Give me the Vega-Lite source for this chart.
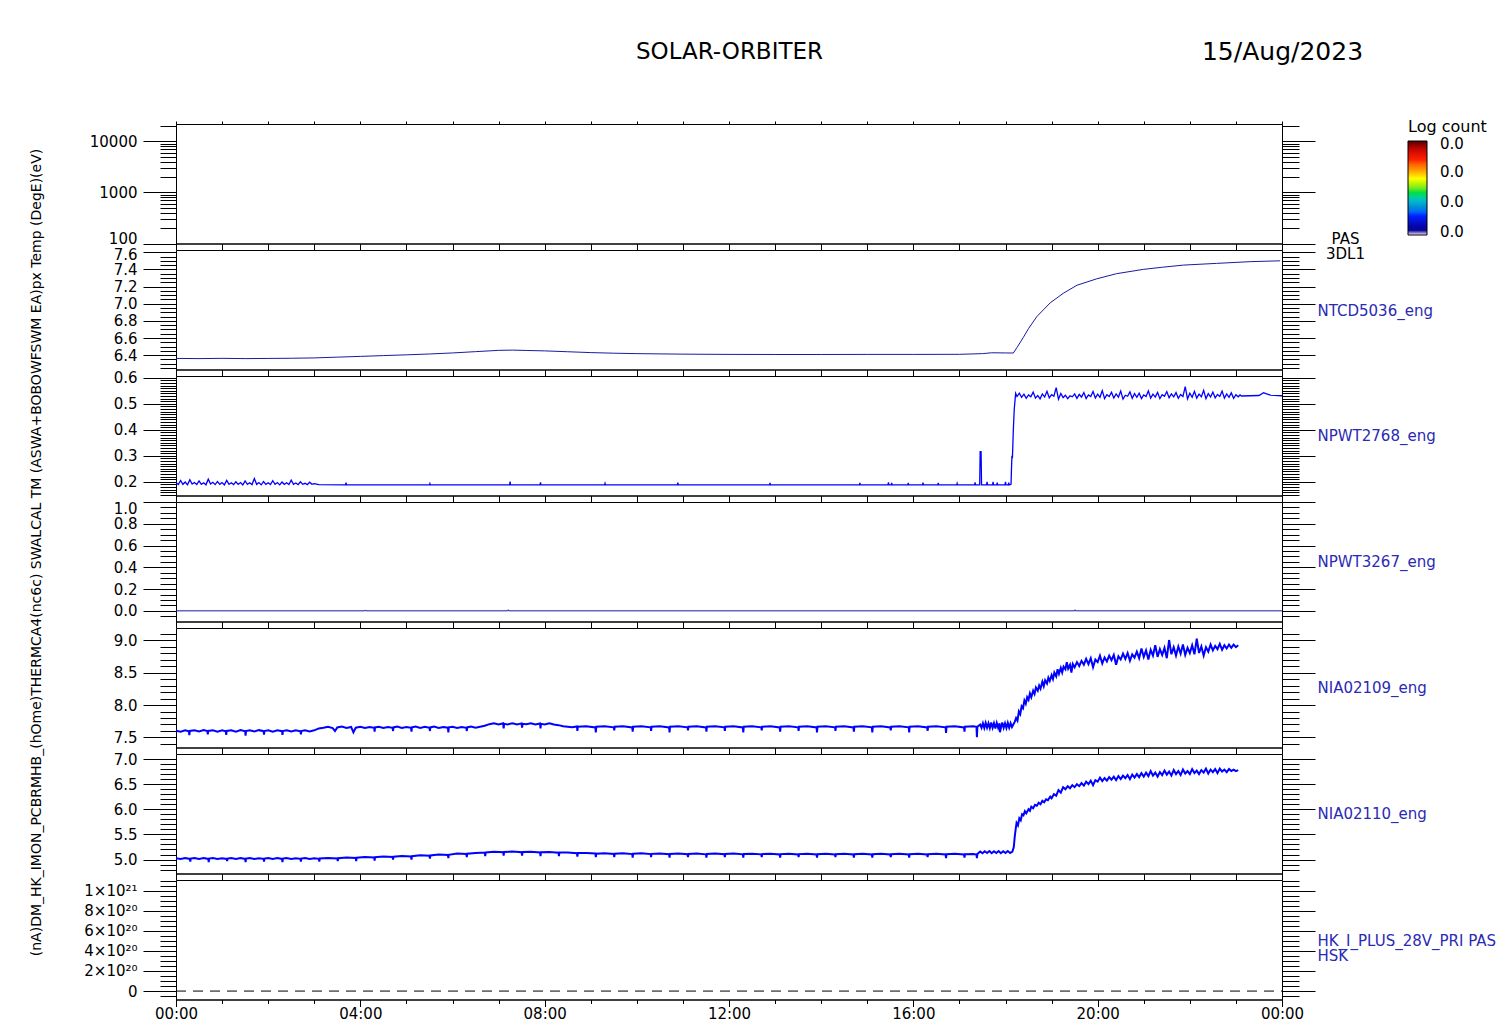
{
"$schema": "https://vega.github.io/schema/vega-lite/v6.json",
"background": "white",
"padding": {"left": 28, "top": 38, "right": 5, "bottom": 5},
"config": {
 "view": {"stroke": "#000000", "strokeWidth": 1},
 "font": "DejaVu Sans",
 "axis": {"grid": false, "domainColor": "#000000", "tickColor": "#000000", "labelColor": "#000000", "labelFont": "DejaVu Sans", "labelFontSize": 15, "titleFont": "DejaVu Sans", "titleFontSize": 15, "titleFontWeight": "normal", "titleColor": "#000000", "labelOverlap": false, "labelFlush": false, "tickWidth": 1, "domainWidth": 1},
 "legend": {"labelFont": "DejaVu Sans", "titleFont": "DejaVu Sans"}
},
"datasets": {
 "p1": [],
 "p2": [{"h":0,"v":6.362},{"h":0.5,"v":6.36},{"h":1,"v":6.363},{"h":1.5,"v":6.36},{"h":2,"v":6.362},{"h":2.5,"v":6.364},{"h":3,"v":6.368},{"h":3.5,"v":6.377},{"h":4,"v":6.386},{"h":4.5,"v":6.395},{"h":5,"v":6.404},{"h":5.5,"v":6.414},{"h":6,"v":6.426},{"h":6.5,"v":6.441},{"h":7,"v":6.456},{"h":7.3,"v":6.459},{"h":7.6,"v":6.455},{"h":8,"v":6.45},{"h":8.5,"v":6.44},{"h":9,"v":6.43},{"h":9.5,"v":6.423},{"h":10,"v":6.418},{"h":11,"v":6.412},{"h":12,"v":6.409},{"h":13,"v":6.408},{"h":14,"v":6.408},{"h":15,"v":6.409},{"h":16,"v":6.409},{"h":17,"v":6.41},{"h":17.5,"v":6.418},{"h":17.7,"v":6.428},{"h":18,"v":6.426},{"h":18.17,"v":6.425},{"h":18.25,"v":6.49},{"h":18.39,"v":6.61},{"h":18.5,"v":6.71},{"h":18.68,"v":6.85},{"h":18.97,"v":7.01},{"h":19.25,"v":7.12},{"h":19.55,"v":7.215},{"h":19.98,"v":7.29},{"h":20.41,"v":7.35},{"h":20.99,"v":7.4},{"h":21.4,"v":7.425},{"h":21.86,"v":7.45},{"h":22.58,"v":7.47},{"h":23.31,"v":7.49},{"h":23.96,"v":7.5}],
 "p3": [{"h":0,"v":0.196},{"h":0.05,"v":0.189},{"h":0.1,"v":0.205},{"h":0.15,"v":0.19},{"h":0.2,"v":0.199},{"h":0.25,"v":0.188},{"h":0.3,"v":0.208},{"h":0.35,"v":0.191},{"h":0.4,"v":0.197},{"h":0.45,"v":0.189},{"h":0.5,"v":0.203},{"h":0.55,"v":0.19},{"h":0.6,"v":0.196},{"h":0.65,"v":0.188},{"h":0.7,"v":0.21},{"h":0.75,"v":0.191},{"h":0.8,"v":0.198},{"h":0.85,"v":0.189},{"h":0.9,"v":0.201},{"h":0.95,"v":0.19},{"h":1,"v":0.197},{"h":1.05,"v":0.188},{"h":1.1,"v":0.205},{"h":1.15,"v":0.19},{"h":1.2,"v":0.196},{"h":1.25,"v":0.189},{"h":1.3,"v":0.2},{"h":1.35,"v":0.19},{"h":1.4,"v":0.197},{"h":1.45,"v":0.188},{"h":1.5,"v":0.203},{"h":1.55,"v":0.19},{"h":1.6,"v":0.196},{"h":1.65,"v":0.189},{"h":1.7,"v":0.212},{"h":1.75,"v":0.19},{"h":1.8,"v":0.197},{"h":1.85,"v":0.188},{"h":1.9,"v":0.201},{"h":1.95,"v":0.19},{"h":2,"v":0.196},{"h":2.05,"v":0.189},{"h":2.1,"v":0.204},{"h":2.15,"v":0.19},{"h":2.2,"v":0.197},{"h":2.25,"v":0.188},{"h":2.3,"v":0.199},{"h":2.35,"v":0.19},{"h":2.4,"v":0.196},{"h":2.45,"v":0.189},{"h":2.5,"v":0.206},{"h":2.55,"v":0.19},{"h":2.6,"v":0.195},{"h":2.65,"v":0.189},{"h":2.7,"v":0.2},{"h":2.75,"v":0.19},{"h":2.8,"v":0.194},{"h":2.85,"v":0.189},{"h":2.9,"v":0.198},{"h":2.95,"v":0.19},{"h":3,"v":0.193},{"h":3.1,"v":0.189},{"h":3.68,"v":0.188},{"h":3.69,"v":0.197},{"h":3.7,"v":0.188},{"h":5.5,"v":0.188},{"h":5.51,"v":0.193},{"h":5.52,"v":0.188},{"h":7.24,"v":0.188},{"h":7.25,"v":0.201},{"h":7.26,"v":0.188},{"h":7.9,"v":0.188},{"h":7.91,"v":0.198},{"h":7.92,"v":0.188},{"h":9.3,"v":0.188},{"h":9.31,"v":0.194},{"h":9.32,"v":0.188},{"h":10.88,"v":0.188},{"h":10.89,"v":0.197},{"h":10.9,"v":0.188},{"h":12.88,"v":0.188},{"h":12.89,"v":0.196},{"h":12.9,"v":0.188},{"h":14.83,"v":0.188},{"h":14.84,"v":0.195},{"h":14.85,"v":0.188},{"h":15.45,"v":0.188},{"h":15.46,"v":0.198},{"h":15.47,"v":0.188},{"h":15.52,"v":0.188},{"h":15.53,"v":0.196},{"h":15.54,"v":0.188},{"h":15.88,"v":0.188},{"h":15.89,"v":0.195},{"h":15.9,"v":0.188},{"h":16.2,"v":0.188},{"h":16.21,"v":0.197},{"h":16.22,"v":0.188},{"h":16.53,"v":0.188},{"h":16.54,"v":0.196},{"h":16.55,"v":0.188},{"h":16.94,"v":0.188},{"h":16.95,"v":0.194},{"h":16.96,"v":0.188},{"h":17.33,"v":0.188},{"h":17.34,"v":0.198},{"h":17.35,"v":0.188},{"h":17.44,"v":0.188},{"h":17.45,"v":0.316},{"h":17.47,"v":0.316},{"h":17.48,"v":0.188},{"h":17.59,"v":0.188},{"h":17.6,"v":0.2},{"h":17.61,"v":0.188},{"h":17.72,"v":0.188},{"h":17.73,"v":0.2},{"h":17.74,"v":0.188},{"h":17.81,"v":0.188},{"h":17.82,"v":0.197},{"h":17.83,"v":0.188},{"h":17.99,"v":0.188},{"h":18,"v":0.2},{"h":18.01,"v":0.188},{"h":18.06,"v":0.188},{"h":18.07,"v":0.197},{"h":18.08,"v":0.188},{"h":18.12,"v":0.19},{"h":18.13,"v":0.25},{"h":18.14,"v":0.3},{"h":18.15,"v":0.29},{"h":18.17,"v":0.4},{"h":18.19,"v":0.48},{"h":18.21,"v":0.52},{"h":18.22,"v":0.54},{"h":18.25,"v":0.528},{"h":18.3,"v":0.541},{"h":18.35,"v":0.525},{"h":18.4,"v":0.537},{"h":18.45,"v":0.521},{"h":18.5,"v":0.534},{"h":18.55,"v":0.527},{"h":18.6,"v":0.545},{"h":18.65,"v":0.522},{"h":18.7,"v":0.532},{"h":18.75,"v":0.519},{"h":18.8,"v":0.538},{"h":18.85,"v":0.526},{"h":18.9,"v":0.548},{"h":18.95,"v":0.523},{"h":19,"v":0.535},{"h":19.05,"v":0.529},{"h":19.1,"v":0.562},{"h":19.15,"v":0.518},{"h":19.2,"v":0.54},{"h":19.25,"v":0.524},{"h":19.3,"v":0.533},{"h":19.35,"v":0.52},{"h":19.4,"v":0.531},{"h":19.45,"v":0.527},{"h":19.5,"v":0.538},{"h":19.55,"v":0.521},{"h":19.6,"v":0.536},{"h":19.65,"v":0.526},{"h":19.7,"v":0.543},{"h":19.75,"v":0.52},{"h":19.8,"v":0.534},{"h":19.85,"v":0.528},{"h":19.9,"v":0.547},{"h":19.95,"v":0.522},{"h":20,"v":0.537},{"h":20.05,"v":0.525},{"h":20.1,"v":0.551},{"h":20.15,"v":0.52},{"h":20.2,"v":0.535},{"h":20.25,"v":0.528},{"h":20.3,"v":0.544},{"h":20.35,"v":0.522},{"h":20.4,"v":0.538},{"h":20.45,"v":0.526},{"h":20.5,"v":0.549},{"h":20.55,"v":0.518},{"h":20.6,"v":0.533},{"h":20.65,"v":0.529},{"h":20.7,"v":0.546},{"h":20.75,"v":0.521},{"h":20.8,"v":0.539},{"h":20.85,"v":0.525},{"h":20.9,"v":0.541},{"h":20.95,"v":0.52},{"h":21,"v":0.534},{"h":21.05,"v":0.528},{"h":21.1,"v":0.55},{"h":21.15,"v":0.522},{"h":21.2,"v":0.537},{"h":21.25,"v":0.526},{"h":21.3,"v":0.544},{"h":21.35,"v":0.52},{"h":21.4,"v":0.535},{"h":21.45,"v":0.529},{"h":21.5,"v":0.547},{"h":21.55,"v":0.523},{"h":21.6,"v":0.538},{"h":21.65,"v":0.527},{"h":21.7,"v":0.543},{"h":21.75,"v":0.521},{"h":21.8,"v":0.536},{"h":21.85,"v":0.528},{"h":21.9,"v":0.566},{"h":21.95,"v":0.519},{"h":22,"v":0.541},{"h":22.05,"v":0.525},{"h":22.1,"v":0.548},{"h":22.15,"v":0.522},{"h":22.2,"v":0.537},{"h":22.25,"v":0.527},{"h":22.3,"v":0.552},{"h":22.35,"v":0.52},{"h":22.4,"v":0.539},{"h":22.45,"v":0.526},{"h":22.5,"v":0.545},{"h":22.55,"v":0.523},{"h":22.6,"v":0.536},{"h":22.65,"v":0.528},{"h":22.7,"v":0.549},{"h":22.75,"v":0.522},{"h":22.8,"v":0.538},{"h":22.85,"v":0.525},{"h":22.9,"v":0.542},{"h":22.95,"v":0.521},{"h":23,"v":0.535},{"h":23.05,"v":0.527},{"h":23.09,"v":0.534},{"h":23.12,"v":0.53},{"h":23.3,"v":0.531},{"h":23.5,"v":0.532},{"h":23.6,"v":0.543},{"h":23.65,"v":0.539},{"h":23.75,"v":0.533},{"h":24,"v":0.531}],
 "p4": [{"h":0,"v":0},{"h":4.1,"v":0},{"h":4.11,"v":0.008},{"h":4.12,"v":0},{"h":7.2,"v":0},{"h":7.21,"v":0.01},{"h":7.22,"v":0},{"h":19.5,"v":0},{"h":19.51,"v":0.01},{"h":19.52,"v":0},{"h":24,"v":0}],
 "p5": [{"h":0,"v":7.605},{"h":0.1,"v":7.59},{"h":0.2,"v":7.612},{"h":0.28,"v":7.595},{"h":0.29,"v":7.535},{"h":0.3,"v":7.6},{"h":0.4,"v":7.61},{"h":0.5,"v":7.592},{"h":0.6,"v":7.614},{"h":0.68,"v":7.598},{"h":0.69,"v":7.55},{"h":0.7,"v":7.6},{"h":0.8,"v":7.61},{"h":0.9,"v":7.59},{"h":1,"v":7.612},{"h":1.08,"v":7.595},{"h":1.09,"v":7.54},{"h":1.1,"v":7.6},{"h":1.2,"v":7.61},{"h":1.3,"v":7.59},{"h":1.4,"v":7.615},{"h":1.5,"v":7.596},{"h":1.51,"v":7.53},{"h":1.52,"v":7.6},{"h":1.6,"v":7.61},{"h":1.7,"v":7.592},{"h":1.8,"v":7.613},{"h":1.9,"v":7.597},{"h":1.91,"v":7.545},{"h":1.92,"v":7.6},{"h":2,"v":7.61},{"h":2.1,"v":7.59},{"h":2.2,"v":7.612},{"h":2.3,"v":7.597},{"h":2.31,"v":7.54},{"h":2.32,"v":7.6},{"h":2.4,"v":7.61},{"h":2.5,"v":7.592},{"h":2.6,"v":7.612},{"h":2.7,"v":7.596},{"h":2.71,"v":7.55},{"h":2.72,"v":7.6},{"h":2.8,"v":7.61},{"h":2.9,"v":7.593},{"h":3,"v":7.61},{"h":3.1,"v":7.64},{"h":3.2,"v":7.65},{"h":3.3,"v":7.665},{"h":3.4,"v":7.645},{"h":3.45,"v":7.6},{"h":3.5,"v":7.655},{"h":3.6,"v":7.668},{"h":3.7,"v":7.648},{"h":3.8,"v":7.662},{"h":3.85,"v":7.58},{"h":3.9,"v":7.65},{"h":4,"v":7.666},{"h":4.1,"v":7.647},{"h":4.2,"v":7.663},{"h":4.3,"v":7.65},{"h":4.31,"v":7.59},{"h":4.32,"v":7.655},{"h":4.4,"v":7.665},{"h":4.5,"v":7.646},{"h":4.6,"v":7.662},{"h":4.7,"v":7.649},{"h":4.71,"v":7.6},{"h":4.72,"v":7.655},{"h":4.8,"v":7.667},{"h":4.9,"v":7.648},{"h":5,"v":7.663},{"h":5.1,"v":7.65},{"h":5.11,"v":7.59},{"h":5.12,"v":7.656},{"h":5.2,"v":7.668},{"h":5.3,"v":7.647},{"h":5.4,"v":7.664},{"h":5.5,"v":7.65},{"h":5.51,"v":7.6},{"h":5.52,"v":7.655},{"h":5.6,"v":7.667},{"h":5.7,"v":7.648},{"h":5.8,"v":7.663},{"h":5.9,"v":7.651},{"h":5.91,"v":7.58},{"h":5.92,"v":7.656},{"h":6,"v":7.666},{"h":6.1,"v":7.647},{"h":6.2,"v":7.662},{"h":6.3,"v":7.65},{"h":6.31,"v":7.6},{"h":6.32,"v":7.655},{"h":6.4,"v":7.668},{"h":6.5,"v":7.649},{"h":6.6,"v":7.664},{"h":6.7,"v":7.68},{"h":6.8,"v":7.705},{"h":6.9,"v":7.72},{"h":7,"v":7.7},{"h":7.1,"v":7.718},{"h":7.11,"v":7.64},{"h":7.12,"v":7.71},{"h":7.2,"v":7.702},{"h":7.3,"v":7.72},{"h":7.4,"v":7.7},{"h":7.5,"v":7.717},{"h":7.51,"v":7.65},{"h":7.52,"v":7.71},{"h":7.6,"v":7.703},{"h":7.7,"v":7.72},{"h":7.8,"v":7.7},{"h":7.9,"v":7.716},{"h":7.91,"v":7.64},{"h":7.92,"v":7.71},{"h":8,"v":7.702},{"h":8.1,"v":7.718},{"h":8.2,"v":7.7},{"h":8.3,"v":7.69},{"h":8.4,"v":7.672},{"h":8.6,"v":7.656},{"h":8.7,"v":7.67},{"h":8.71,"v":7.6},{"h":8.72,"v":7.665},{"h":8.9,"v":7.674},{"h":9.1,"v":7.655},{"h":9.11,"v":7.58},{"h":9.12,"v":7.665},{"h":9.3,"v":7.673},{"h":9.5,"v":7.656},{"h":9.51,"v":7.61},{"h":9.52,"v":7.665},{"h":9.7,"v":7.674},{"h":9.9,"v":7.655},{"h":9.91,"v":7.59},{"h":9.92,"v":7.665},{"h":10.1,"v":7.673},{"h":10.3,"v":7.657},{"h":10.31,"v":7.6},{"h":10.32,"v":7.665},{"h":10.5,"v":7.674},{"h":10.7,"v":7.655},{"h":10.71,"v":7.58},{"h":10.72,"v":7.665},{"h":10.9,"v":7.672},{"h":11.1,"v":7.656},{"h":11.11,"v":7.61},{"h":11.12,"v":7.665},{"h":11.3,"v":7.673},{"h":11.5,"v":7.655},{"h":11.51,"v":7.59},{"h":11.52,"v":7.665},{"h":11.7,"v":7.674},{"h":11.9,"v":7.656},{"h":11.91,"v":7.6},{"h":11.92,"v":7.665},{"h":12.1,"v":7.673},{"h":12.3,"v":7.655},{"h":12.31,"v":7.58},{"h":12.32,"v":7.665},{"h":12.5,"v":7.674},{"h":12.7,"v":7.656},{"h":12.71,"v":7.61},{"h":12.72,"v":7.665},{"h":12.9,"v":7.672},{"h":13.1,"v":7.655},{"h":13.11,"v":7.59},{"h":13.12,"v":7.665},{"h":13.3,"v":7.674},{"h":13.5,"v":7.656},{"h":13.51,"v":7.6},{"h":13.52,"v":7.665},{"h":13.7,"v":7.673},{"h":13.9,"v":7.655},{"h":13.91,"v":7.58},{"h":13.92,"v":7.665},{"h":14.1,"v":7.674},{"h":14.3,"v":7.656},{"h":14.31,"v":7.6},{"h":14.32,"v":7.665},{"h":14.5,"v":7.673},{"h":14.7,"v":7.655},{"h":14.71,"v":7.59},{"h":14.72,"v":7.665},{"h":14.9,"v":7.674},{"h":15.1,"v":7.656},{"h":15.11,"v":7.58},{"h":15.12,"v":7.665},{"h":15.3,"v":7.672},{"h":15.5,"v":7.655},{"h":15.51,"v":7.61},{"h":15.52,"v":7.665},{"h":15.7,"v":7.674},{"h":15.9,"v":7.656},{"h":15.91,"v":7.58},{"h":15.92,"v":7.665},{"h":16.1,"v":7.673},{"h":16.3,"v":7.655},{"h":16.31,"v":7.6},{"h":16.32,"v":7.665},{"h":16.5,"v":7.674},{"h":16.7,"v":7.656},{"h":16.71,"v":7.57},{"h":16.72,"v":7.665},{"h":16.9,"v":7.673},{"h":17.1,"v":7.655},{"h":17.11,"v":7.59},{"h":17.12,"v":7.665},{"h":17.3,"v":7.672},{"h":17.37,"v":7.665},{"h":17.38,"v":7.505},{"h":17.39,"v":7.665},{"h":17.45,"v":7.7},{"h":17.48,"v":7.65},{"h":17.51,"v":7.72},{"h":17.54,"v":7.645},{"h":17.57,"v":7.725},{"h":17.6,"v":7.65},{"h":17.63,"v":7.72},{"h":17.66,"v":7.645},{"h":17.69,"v":7.73},{"h":17.72,"v":7.65},{"h":17.75,"v":7.72},{"h":17.78,"v":7.64},{"h":17.81,"v":7.725},{"h":17.84,"v":7.65},{"h":17.87,"v":7.72},{"h":17.88,"v":7.58},{"h":17.9,"v":7.645},{"h":17.93,"v":7.73},{"h":17.96,"v":7.65},{"h":17.99,"v":7.72},{"h":18.02,"v":7.645},{"h":18.05,"v":7.725},{"h":18.08,"v":7.65},{"h":18.11,"v":7.72},{"h":18.14,"v":7.66},{"h":18.17,"v":7.7},{"h":18.2,"v":7.74},{"h":18.23,"v":7.8},{"h":18.26,"v":7.76},{"h":18.29,"v":7.9},{"h":18.32,"v":7.86},{"h":18.35,"v":7.98},{"h":18.38,"v":7.95},{"h":18.41,"v":8.07},{"h":18.44,"v":8.02},{"h":18.47,"v":8.12},{"h":18.5,"v":8.08},{"h":18.53,"v":8.18},{"h":18.56,"v":8.12},{"h":18.6,"v":8.22},{"h":18.63,"v":8.17},{"h":18.66,"v":8.27},{"h":18.7,"v":8.22},{"h":18.73,"v":8.3},{"h":18.76,"v":8.25},{"h":18.8,"v":8.36},{"h":18.83,"v":8.29},{"h":18.86,"v":8.38},{"h":18.9,"v":8.33},{"h":18.93,"v":8.42},{"h":18.96,"v":8.37},{"h":19,"v":8.46},{"h":19.03,"v":8.4},{"h":19.06,"v":8.5},{"h":19.1,"v":8.44},{"h":19.13,"v":8.55},{"h":19.16,"v":8.48},{"h":19.2,"v":8.57},{"h":19.23,"v":8.5},{"h":19.26,"v":8.59},{"h":19.3,"v":8.55},{"h":19.33,"v":8.66},{"h":19.36,"v":8.56},{"h":19.4,"v":8.62},{"h":19.43,"v":8.5},{"h":19.46,"v":8.63},{"h":19.5,"v":8.58},{"h":19.55,"v":8.66},{"h":19.6,"v":8.6},{"h":19.65,"v":8.68},{"h":19.7,"v":8.62},{"h":19.75,"v":8.71},{"h":19.8,"v":8.63},{"h":19.85,"v":8.72},{"h":19.9,"v":8.58},{"h":19.95,"v":8.7},{"h":20,"v":8.66},{"h":20.05,"v":8.76},{"h":20.1,"v":8.64},{"h":20.15,"v":8.73},{"h":20.2,"v":8.67},{"h":20.25,"v":8.76},{"h":20.3,"v":8.69},{"h":20.35,"v":8.77},{"h":20.4,"v":8.62},{"h":20.45,"v":8.75},{"h":20.5,"v":8.7},{"h":20.55,"v":8.79},{"h":20.6,"v":8.71},{"h":20.65,"v":8.8},{"h":20.7,"v":8.68},{"h":20.75,"v":8.78},{"h":20.8,"v":8.73},{"h":20.85,"v":8.82},{"h":20.9,"v":8.72},{"h":20.95,"v":8.87},{"h":21,"v":8.74},{"h":21.05,"v":8.84},{"h":21.1,"v":8.7},{"h":21.15,"v":8.85},{"h":21.2,"v":8.76},{"h":21.25,"v":8.92},{"h":21.3,"v":8.74},{"h":21.35,"v":8.86},{"h":21.4,"v":8.77},{"h":21.45,"v":8.88},{"h":21.5,"v":8.72},{"h":21.55,"v":9.0},{"h":21.6,"v":8.78},{"h":21.65,"v":8.89},{"h":21.7,"v":8.76},{"h":21.75,"v":8.9},{"h":21.8,"v":8.79},{"h":21.85,"v":8.93},{"h":21.9,"v":8.77},{"h":21.95,"v":8.88},{"h":22,"v":8.8},{"h":22.05,"v":8.92},{"h":22.1,"v":8.78},{"h":22.15,"v":9.02},{"h":22.2,"v":8.8},{"h":22.25,"v":8.9},{"h":22.3,"v":8.76},{"h":22.35,"v":8.89},{"h":22.4,"v":8.82},{"h":22.45,"v":8.93},{"h":22.5,"v":8.84},{"h":22.55,"v":8.91},{"h":22.6,"v":8.86},{"h":22.65,"v":8.94},{"h":22.7,"v":8.85},{"h":22.75,"v":8.92},{"h":22.8,"v":8.87},{"h":22.85,"v":8.93},{"h":22.9,"v":8.88},{"h":22.95,"v":8.93},{"h":23,"v":8.89},{"h":23.05,"v":8.92}],
 "p6": [{"h":0,"v":5.025},{"h":0.1,"v":5.01},{"h":0.2,"v":5.03},{"h":0.3,"v":5.012},{"h":0.31,"v":4.96},{"h":0.32,"v":5.02},{"h":0.4,"v":5.03},{"h":0.5,"v":5.01},{"h":0.6,"v":5.028},{"h":0.7,"v":5.012},{"h":0.71,"v":4.95},{"h":0.72,"v":5.02},{"h":0.8,"v":5.03},{"h":0.9,"v":5.01},{"h":1,"v":5.027},{"h":1.1,"v":5.012},{"h":1.11,"v":4.97},{"h":1.12,"v":5.02},{"h":1.2,"v":5.03},{"h":1.3,"v":5.01},{"h":1.4,"v":5.028},{"h":1.5,"v":5.012},{"h":1.51,"v":4.95},{"h":1.52,"v":5.02},{"h":1.6,"v":5.03},{"h":1.7,"v":5.01},{"h":1.8,"v":5.027},{"h":1.9,"v":5.013},{"h":1.91,"v":4.96},{"h":1.92,"v":5.02},{"h":2,"v":5.03},{"h":2.1,"v":5.012},{"h":2.2,"v":5.028},{"h":2.3,"v":5.012},{"h":2.31,"v":4.95},{"h":2.32,"v":5.02},{"h":2.4,"v":5.03},{"h":2.5,"v":5.012},{"h":2.6,"v":5.027},{"h":2.7,"v":5.013},{"h":2.71,"v":4.96},{"h":2.72,"v":5.02},{"h":2.8,"v":5.03},{"h":2.9,"v":5.012},{"h":3,"v":5.026},{"h":3.1,"v":5.014},{"h":3.11,"v":4.96},{"h":3.12,"v":5.02},{"h":3.3,"v":5.03},{"h":3.5,"v":5.02},{"h":3.51,"v":4.97},{"h":3.52,"v":5.025},{"h":3.7,"v":5.04},{"h":3.9,"v":5.03},{"h":3.91,"v":4.97},{"h":3.92,"v":5.035},{"h":4.1,"v":5.05},{"h":4.3,"v":5.04},{"h":4.31,"v":4.98},{"h":4.32,"v":5.045},{"h":4.5,"v":5.06},{"h":4.7,"v":5.05},{"h":4.71,"v":5.0},{"h":4.72,"v":5.055},{"h":4.9,"v":5.07},{"h":5.1,"v":5.06},{"h":5.11,"v":5.0},{"h":5.12,"v":5.065},{"h":5.3,"v":5.085},{"h":5.5,"v":5.075},{"h":5.51,"v":5.02},{"h":5.52,"v":5.08},{"h":5.7,"v":5.1},{"h":5.9,"v":5.09},{"h":5.91,"v":5.03},{"h":5.92,"v":5.095},{"h":6.1,"v":5.12},{"h":6.3,"v":5.11},{"h":6.31,"v":5.05},{"h":6.32,"v":5.115},{"h":6.5,"v":5.13},{"h":6.7,"v":5.14},{"h":6.71,"v":5.07},{"h":6.72,"v":5.14},{"h":6.9,"v":5.155},{"h":7.1,"v":5.145},{"h":7.11,"v":5.08},{"h":7.12,"v":5.15},{"h":7.3,"v":5.16},{"h":7.5,"v":5.145},{"h":7.51,"v":5.08},{"h":7.52,"v":5.15},{"h":7.7,"v":5.155},{"h":7.9,"v":5.14},{"h":7.91,"v":5.07},{"h":7.92,"v":5.145},{"h":8.1,"v":5.15},{"h":8.3,"v":5.135},{"h":8.31,"v":5.07},{"h":8.32,"v":5.14},{"h":8.5,"v":5.14},{"h":8.7,"v":5.125},{"h":8.71,"v":5.06},{"h":8.72,"v":5.13},{"h":8.9,"v":5.13},{"h":9.1,"v":5.12},{"h":9.11,"v":5.05},{"h":9.12,"v":5.115},{"h":9.3,"v":5.125},{"h":9.5,"v":5.11},{"h":9.51,"v":5.05},{"h":9.52,"v":5.115},{"h":9.7,"v":5.124},{"h":9.9,"v":5.108},{"h":9.91,"v":5.04},{"h":9.92,"v":5.115},{"h":10.1,"v":5.123},{"h":10.3,"v":5.108},{"h":10.31,"v":5.05},{"h":10.32,"v":5.113},{"h":10.5,"v":5.122},{"h":10.7,"v":5.106},{"h":10.71,"v":5.04},{"h":10.72,"v":5.112},{"h":10.9,"v":5.12},{"h":11.1,"v":5.105},{"h":11.11,"v":5.05},{"h":11.12,"v":5.11},{"h":11.3,"v":5.12},{"h":11.5,"v":5.104},{"h":11.51,"v":5.04},{"h":11.52,"v":5.11},{"h":11.7,"v":5.118},{"h":11.9,"v":5.104},{"h":11.91,"v":5.05},{"h":11.92,"v":5.11},{"h":12.1,"v":5.118},{"h":12.3,"v":5.103},{"h":12.31,"v":5.04},{"h":12.32,"v":5.11},{"h":12.5,"v":5.117},{"h":12.7,"v":5.103},{"h":12.71,"v":5.05},{"h":12.72,"v":5.108},{"h":12.9,"v":5.116},{"h":13.1,"v":5.102},{"h":13.11,"v":5.04},{"h":13.12,"v":5.108},{"h":13.3,"v":5.116},{"h":13.5,"v":5.102},{"h":13.51,"v":5.05},{"h":13.52,"v":5.108},{"h":13.7,"v":5.115},{"h":13.9,"v":5.1},{"h":13.91,"v":5.04},{"h":13.92,"v":5.107},{"h":14.1,"v":5.115},{"h":14.3,"v":5.1},{"h":14.31,"v":5.05},{"h":14.32,"v":5.107},{"h":14.5,"v":5.114},{"h":14.7,"v":5.1},{"h":14.71,"v":5.04},{"h":14.72,"v":5.106},{"h":14.9,"v":5.114},{"h":15.1,"v":5.1},{"h":15.11,"v":5.04},{"h":15.12,"v":5.106},{"h":15.3,"v":5.114},{"h":15.5,"v":5.1},{"h":15.51,"v":5.05},{"h":15.52,"v":5.106},{"h":15.7,"v":5.114},{"h":15.9,"v":5.1},{"h":15.91,"v":5.04},{"h":15.92,"v":5.106},{"h":16.1,"v":5.114},{"h":16.3,"v":5.1},{"h":16.31,"v":5.05},{"h":16.32,"v":5.106},{"h":16.5,"v":5.114},{"h":16.7,"v":5.1},{"h":16.71,"v":5.03},{"h":16.72,"v":5.106},{"h":16.9,"v":5.114},{"h":17.1,"v":5.1},{"h":17.11,"v":5.04},{"h":17.12,"v":5.106},{"h":17.3,"v":5.112},{"h":17.37,"v":5.1},{"h":17.38,"v":5.03},{"h":17.39,"v":5.11},{"h":17.45,"v":5.16},{"h":17.5,"v":5.125},{"h":17.55,"v":5.165},{"h":17.6,"v":5.13},{"h":17.65,"v":5.17},{"h":17.7,"v":5.125},{"h":17.75,"v":5.165},{"h":17.8,"v":5.13},{"h":17.85,"v":5.17},{"h":17.9,"v":5.125},{"h":17.95,"v":5.165},{"h":18,"v":5.13},{"h":18.05,"v":5.168},{"h":18.1,"v":5.13},{"h":18.15,"v":5.16},{"h":18.18,"v":5.25},{"h":18.2,"v":5.45},{"h":18.22,"v":5.6},{"h":18.24,"v":5.73},{"h":18.27,"v":5.68},{"h":18.3,"v":5.82},{"h":18.33,"v":5.78},{"h":18.36,"v":5.9},{"h":18.39,"v":5.88},{"h":18.42,"v":5.96},{"h":18.45,"v":5.92},{"h":18.5,"v":6.0},{"h":18.53,"v":5.97},{"h":18.56,"v":6.05},{"h":18.6,"v":6.02},{"h":18.64,"v":6.09},{"h":18.68,"v":6.07},{"h":18.72,"v":6.13},{"h":18.76,"v":6.1},{"h":18.8,"v":6.17},{"h":18.84,"v":6.14},{"h":18.88,"v":6.2},{"h":18.92,"v":6.18},{"h":18.97,"v":6.25},{"h":19,"v":6.22},{"h":19.05,"v":6.3},{"h":19.1,"v":6.27},{"h":19.15,"v":6.38},{"h":19.2,"v":6.33},{"h":19.25,"v":6.44},{"h":19.3,"v":6.4},{"h":19.35,"v":6.46},{"h":19.4,"v":6.42},{"h":19.45,"v":6.48},{"h":19.5,"v":6.44},{"h":19.55,"v":6.5},{"h":19.6,"v":6.46},{"h":19.65,"v":6.52},{"h":19.7,"v":6.47},{"h":19.75,"v":6.55},{"h":19.8,"v":6.5},{"h":19.85,"v":6.57},{"h":19.9,"v":6.48},{"h":19.95,"v":6.58},{"h":20,"v":6.55},{"h":20.05,"v":6.63},{"h":20.1,"v":6.56},{"h":20.15,"v":6.62},{"h":20.2,"v":6.57},{"h":20.25,"v":6.64},{"h":20.3,"v":6.59},{"h":20.35,"v":6.65},{"h":20.4,"v":6.58},{"h":20.45,"v":6.66},{"h":20.5,"v":6.6},{"h":20.55,"v":6.67},{"h":20.6,"v":6.62},{"h":20.65,"v":6.68},{"h":20.7,"v":6.6},{"h":20.75,"v":6.69},{"h":20.8,"v":6.63},{"h":20.85,"v":6.7},{"h":20.9,"v":6.64},{"h":20.95,"v":6.72},{"h":21,"v":6.65},{"h":21.05,"v":6.73},{"h":21.1,"v":6.66},{"h":21.15,"v":6.76},{"h":21.2,"v":6.67},{"h":21.25,"v":6.73},{"h":21.3,"v":6.65},{"h":21.35,"v":6.74},{"h":21.4,"v":6.68},{"h":21.45,"v":6.77},{"h":21.5,"v":6.69},{"h":21.55,"v":6.75},{"h":21.6,"v":6.67},{"h":21.65,"v":6.78},{"h":21.7,"v":6.7},{"h":21.75,"v":6.76},{"h":21.8,"v":6.68},{"h":21.85,"v":6.79},{"h":21.9,"v":6.71},{"h":21.95,"v":6.76},{"h":22,"v":6.7},{"h":22.05,"v":6.8},{"h":22.1,"v":6.72},{"h":22.15,"v":6.77},{"h":22.2,"v":6.7},{"h":22.25,"v":6.78},{"h":22.3,"v":6.73},{"h":22.35,"v":6.81},{"h":22.4,"v":6.71},{"h":22.45,"v":6.79},{"h":22.5,"v":6.74},{"h":22.55,"v":6.8},{"h":22.6,"v":6.72},{"h":22.65,"v":6.81},{"h":22.7,"v":6.75},{"h":22.75,"v":6.79},{"h":22.8,"v":6.74},{"h":22.85,"v":6.8},{"h":22.9,"v":6.76},{"h":22.95,"v":6.79},{"h":23,"v":6.76},{"h":23.05,"v":6.78}],
 "p7": [{"h":0,"v":0},{"h":24,"v":0}]
},
"vconcat": [
 {
  "width": 1106, "height": 119.5,
  "data": {"name": "p1"},
  "layer": [
   {"mark": {"type": "rect"},
    "encoding": {
     "x": {"field": "h", "type": "quantitative", "scale": {"domain": [0, 24], "nice": false, "zero": false}, "axis": {"orient": "bottom", "values": [0,1,2,3,4,5,6,7,8,9,10,11,12,13,14,15,16,17,18,19,20,21,22,23,24], "tickSize": 6, "labels": false, "title": null}},
     "y": {"field": "e", "type": "quantitative", "scale": {"type": "log", "domain": [100, 21700], "nice": false}, "axis": {"orient": "left", "values": [100, 1000, 10000], "tickSize": 33, "labelPadding": 6, "format": "d", "labelOffset": {"condition": {"test": "datum.value == 100", "value": -5}, "value": 0}, "title": null}},
     "color": {"field": "c", "type": "quantitative",
       "scale": {"domain": [0, 0.3, 0.6, 2, 3, 4.5, 5.2, 6, 7, 8, 9.3, 10], "range": ["#ffffff", "#1010a0", "#000090", "#0020ff", "#0090d0", "#00e040", "#90f000", "#ffff00", "#ff9000", "#ff2000", "#c00000", "#000000"]},
       "legend": {"orient": "none", "legendX": 1232, "legendY": -5, "direction": "vertical", "title": "Log count", "titleFontSize": 16, "titleFontWeight": "normal", "titleColor": "#000000", "titlePadding": 6, "gradientLength": 94, "gradientThickness": 19, "gradientStrokeColor": "#000000", "gradientStrokeWidth": 1, "labelFontSize": 15, "labelColor": "#000000", "labelOffset": 13, "values": [0.3, 3.5, 6.7, 9.7], "labelExpr": "'0.0'", "labelOverlap": false}}
    }},
   {"mark": {"type": "point", "opacity": 0},
    "encoding": {
     "x": {"field": "h", "type": "quantitative", "scale": {"domain": [0, 24], "nice": false, "zero": false}, "axis": {"orient": "top", "values": [0,1,2,3,4,5,6,7,8,9,10,11,12,13,14,15,16,17,18,19,20,21,22,23,24], "tickSize": 3, "labels": false, "domain": false, "title": "15/Aug/2023", "titleX": 1106, "titleY": -73, "titleAlign": "center", "titleBaseline": "middle", "titleFontSize": 25}},
     "y": {"field": "e", "type": "quantitative", "scale": {"type": "log", "domain": [100, 21700], "nice": false}, "axis": {"orient": "left", "values": [200,300,400,500,600,700,800,900,2000,3000,4000,5000,6000,7000,8000,9000,20000], "tickSize": 16, "labels": false, "domain": false, "title": null}}
    }},
   {"mark": {"type": "point", "opacity": 0},
    "encoding": {
     "x": {"field": "h", "type": "quantitative", "scale": {"domain": [0, 24], "nice": false, "zero": false}, "axis": {"orient": "top", "ticks": false, "labels": false, "domain": false, "title": "SOLAR-ORBITER", "titleX": 553, "titleY": -73, "titleAlign": "center", "titleBaseline": "middle", "titleFontSize": 23}},
     "y": {"field": "e", "type": "quantitative", "scale": {"type": "log", "domain": [100, 21700], "nice": false}, "axis": {"orient": "right", "values": [100, 1000, 10000], "tickSize": 33, "labels": false, "title": ["PAS", "3DL1"], "titleAngle": 0, "titleX": 63, "titleY": 107, "titleAlign": "center", "titleBaseline": "top", "titleLineHeight": 15}}
    }},
   {"mark": {"type": "point", "opacity": 0},
    "encoding": {
     "y": {"field": "e", "type": "quantitative", "scale": {"type": "log", "domain": [100, 21700], "nice": false}, "axis": {"orient": "right", "values": [200,300,400,500,600,700,800,900,2000,3000,4000,5000,6000,7000,8000,9000,20000], "tickSize": 17, "labels": false, "domain": false, "title": null}}
    }}
  ],
  "resolve": {"axis": {"x": "independent", "y": "independent"}}
 },
 {
  "width": 1106, "height": 119.5,
  "data": {"name": "p2"},
  "layer": [
   {"mark": {"type": "line", "color": "#1a1aa0", "strokeWidth": 1, "clip": true},
    "encoding": {
     "x": {"field": "h", "type": "quantitative", "scale": {"domain": [0, 24], "nice": false, "zero": false}, "axis": {"orient": "bottom", "values": [0,1,2,3,4,5,6,7,8,9,10,11,12,13,14,15,16,17,18,19,20,21,22,23,24], "tickSize": 6, "labels": false, "title": null}},
     "y": {"field": "v", "type": "quantitative", "scale": {"domain": [6.233, 7.626], "nice": false, "zero": false}, "axis": {"orient": "left", "values": [6.4,6.6,6.8,7.0,7.2,7.4,7.6], "tickSize": 33, "labelPadding": 6, "format": ".1f", "labelOffset": {"condition": {"test": "datum.value > 7.5", "value": 2}, "value": 0}, "title": null}}
    }},
   {"mark": {"type": "point", "opacity": 0},
    "encoding": {"y": {"field": "v", "type": "quantitative", "scale": {"domain": [6.233, 7.626], "nice": false, "zero": false}, "axis": {"orient": "left", "values": [6.25,6.3,6.35,6.45,6.5,6.55,6.65,6.7,6.75,6.85,6.9,6.95,7.05,7.1,7.15,7.25,7.3,7.35,7.45,7.5,7.55], "tickSize": 16, "labels": false, "domain": false, "title": null}}}},
   {"mark": {"type": "point", "opacity": 0},
    "encoding": {"y": {"field": "v", "type": "quantitative", "scale": {"domain": [6.233, 7.626], "nice": false, "zero": false}, "axis": {"orient": "right", "values": [6.4,6.6,6.8,7.0,7.2,7.4,7.6], "tickSize": 33, "labels": false, "title": "NTCD5036_eng", "titleAngle": 0, "titleX": 35, "titleY": 60, "titleAlign": "left", "titleBaseline": "middle", "titleColor": "#2a2ab4"}}}},
   {"mark": {"type": "point", "opacity": 0},
    "encoding": {"y": {"field": "v", "type": "quantitative", "scale": {"domain": [6.233, 7.626], "nice": false, "zero": false}, "axis": {"orient": "right", "values": [6.25,6.3,6.35,6.45,6.5,6.55,6.65,6.7,6.75,6.85,6.9,6.95,7.05,7.1,7.15,7.25,7.3,7.35,7.45,7.5,7.55], "tickSize": 17, "labels": false, "domain": false, "title": null}}}}
  ],
  "resolve": {"axis": {"x": "independent", "y": "independent"}}
 },
 {
  "width": 1106, "height": 119.5,
  "data": {"name": "p3"},
  "layer": [
   {"mark": {"type": "line", "color": "#0000ff", "strokeWidth": 1.3, "clip": true},
    "encoding": {
     "x": {"field": "h", "type": "quantitative", "scale": {"domain": [0, 24], "nice": false, "zero": false}, "axis": {"orient": "bottom", "values": [0,1,2,3,4,5,6,7,8,9,10,11,12,13,14,15,16,17,18,19,20,21,22,23,24], "tickSize": 6, "labels": false, "title": null}},
     "y": {"field": "v", "type": "quantitative", "scale": {"domain": [0.147, 0.607], "nice": false, "zero": false}, "axis": {"orient": "left", "values": [0.2,0.3,0.4,0.5,0.6], "tickSize": 33, "labelPadding": 6, "format": ".1f", "title": null}}
    }},
   {"mark": {"type": "point", "opacity": 0},
    "encoding": {"y": {"field": "v", "type": "quantitative", "scale": {"domain": [0.147, 0.607], "nice": false, "zero": false}, "axis": {"orient": "left", "values": [0.15,0.16,0.17,0.18,0.19,0.21,0.22,0.23,0.24,0.25,0.26,0.27,0.28,0.29,0.31,0.32,0.33,0.34,0.35,0.36,0.37,0.38,0.39,0.41,0.42,0.43,0.44,0.45,0.46,0.47,0.48,0.49,0.51,0.52,0.53,0.54,0.55,0.56,0.57,0.58,0.59], "tickSize": 16, "labels": false, "domain": false, "title": null}}}},
   {"mark": {"type": "point", "opacity": 0},
    "encoding": {"y": {"field": "v", "type": "quantitative", "scale": {"domain": [0.147, 0.607], "nice": false, "zero": false}, "axis": {"orient": "right", "values": [0.2,0.3,0.4,0.5,0.6], "tickSize": 33, "labels": false, "title": "NPWT2768_eng", "titleAngle": 0, "titleX": 35, "titleY": 59.5, "titleAlign": "left", "titleBaseline": "middle", "titleColor": "#2a2ab4"}}}},
   {"mark": {"type": "point", "opacity": 0},
    "encoding": {"y": {"field": "v", "type": "quantitative", "scale": {"domain": [0.147, 0.607], "nice": false, "zero": false}, "axis": {"orient": "right", "values": [0.15,0.16,0.17,0.18,0.19,0.21,0.22,0.23,0.24,0.25,0.26,0.27,0.28,0.29,0.31,0.32,0.33,0.34,0.35,0.36,0.37,0.38,0.39,0.41,0.42,0.43,0.44,0.45,0.46,0.47,0.48,0.49,0.51,0.52,0.53,0.54,0.55,0.56,0.57,0.58,0.59], "tickSize": 17, "labels": false, "domain": false, "title": null}}}}
  ],
  "resolve": {"axis": {"x": "independent", "y": "independent"}}
 },
 {
  "width": 1106, "height": 119.5,
  "data": {"name": "p4"},
  "layer": [
   {"mark": {"type": "line", "color": "#1a1aa0", "strokeWidth": 1, "clip": true},
    "encoding": {
     "x": {"field": "h", "type": "quantitative", "scale": {"domain": [0, 24], "nice": false, "zero": false}, "axis": {"orient": "bottom", "values": [0,1,2,3,4,5,6,7,8,9,10,11,12,13,14,15,16,17,18,19,20,21,22,23,24], "tickSize": 6, "labels": false, "title": null}},
     "y": {"field": "v", "type": "quantitative", "scale": {"domain": [-0.098, 1.0], "nice": false, "zero": false}, "axis": {"orient": "left", "values": [0,0.2,0.4,0.6,0.8,1.0], "tickSize": 33, "labelPadding": 6, "format": ".1f", "labelOffset": {"condition": {"test": "datum.value > 0.9", "value": 6}, "value": 0}, "title": "(nA)DM_HK_IMON_PCBRMHB_(hOme)THERMCA4(nc6c) SWALCAL TM (ASWA+BOBOWFSWM EA)px Temp (DegE)(eV)", "titleX": -140, "titleY": 50, "titleAngle": -90, "titleAlign": "center", "titleBaseline": "middle", "titleFontSize": 14}}
    }},
   {"mark": {"type": "point", "opacity": 0},
    "encoding": {"y": {"field": "v", "type": "quantitative", "scale": {"domain": [-0.098, 1.0], "nice": false, "zero": false}, "axis": {"orient": "left", "values": [-0.05,0.05,0.1,0.15,0.25,0.3,0.35,0.45,0.5,0.55,0.65,0.7,0.75,0.85,0.9,0.95], "tickSize": 16, "labels": false, "domain": false, "title": null}}}},
   {"mark": {"type": "point", "opacity": 0},
    "encoding": {"y": {"field": "v", "type": "quantitative", "scale": {"domain": [-0.098, 1.0], "nice": false, "zero": false}, "axis": {"orient": "right", "values": [0,0.2,0.4,0.6,0.8,1.0], "tickSize": 33, "labels": false, "title": "NPWT3267_eng", "titleAngle": 0, "titleX": 35, "titleY": 59.5, "titleAlign": "left", "titleBaseline": "middle", "titleColor": "#2a2ab4"}}}},
   {"mark": {"type": "point", "opacity": 0},
    "encoding": {"y": {"field": "v", "type": "quantitative", "scale": {"domain": [-0.098, 1.0], "nice": false, "zero": false}, "axis": {"orient": "right", "values": [-0.05,0.05,0.1,0.15,0.25,0.3,0.35,0.45,0.5,0.55,0.65,0.7,0.75,0.85,0.9,0.95], "tickSize": 17, "labels": false, "domain": false, "title": null}}}}
  ],
  "resolve": {"axis": {"x": "independent", "y": "independent"}}
 },
 {
  "width": 1106, "height": 119.5,
  "data": {"name": "p5"},
  "layer": [
   {"mark": {"type": "line", "color": "#0000ff", "strokeWidth": 2, "clip": true},
    "encoding": {
     "x": {"field": "h", "type": "quantitative", "scale": {"domain": [0, 24], "nice": false, "zero": false}, "axis": {"orient": "bottom", "values": [0,1,2,3,4,5,6,7,8,9,10,11,12,13,14,15,16,17,18,19,20,21,22,23,24], "tickSize": 6, "labels": false, "title": null}},
     "y": {"field": "v", "type": "quantitative", "scale": {"domain": [7.346, 9.185], "nice": false, "zero": false}, "axis": {"orient": "left", "values": [7.5,8.0,8.5,9.0], "tickSize": 33, "labelPadding": 6, "format": ".1f", "title": null}}
    }},
   {"mark": {"type": "point", "opacity": 0},
    "encoding": {"y": {"field": "v", "type": "quantitative", "scale": {"domain": [7.346, 9.185], "nice": false, "zero": false}, "axis": {"orient": "left", "values": [7.4,7.6,7.7,7.8,7.9,8.1,8.2,8.3,8.4,8.6,8.7,8.8,8.9,9.1], "tickSize": 16, "labels": false, "domain": false, "title": null}}}},
   {"mark": {"type": "point", "opacity": 0},
    "encoding": {"y": {"field": "v", "type": "quantitative", "scale": {"domain": [7.346, 9.185], "nice": false, "zero": false}, "axis": {"orient": "right", "values": [7.5,8.0,8.5,9.0], "tickSize": 33, "labels": false, "title": "NIA02109_eng", "titleAngle": 0, "titleX": 35, "titleY": 59, "titleAlign": "left", "titleBaseline": "middle", "titleColor": "#2a2ab4"}}}},
   {"mark": {"type": "point", "opacity": 0},
    "encoding": {"y": {"field": "v", "type": "quantitative", "scale": {"domain": [7.346, 9.185], "nice": false, "zero": false}, "axis": {"orient": "right", "values": [7.4,7.6,7.7,7.8,7.9,8.1,8.2,8.3,8.4,8.6,8.7,8.8,8.9,9.1], "tickSize": 17, "labels": false, "domain": false, "title": null}}}}
  ],
  "resolve": {"axis": {"x": "independent", "y": "independent"}}
 },
 {
  "width": 1106, "height": 119.5,
  "data": {"name": "p6"},
  "layer": [
   {"mark": {"type": "line", "color": "#0000ff", "strokeWidth": 2, "clip": true},
    "encoding": {
     "x": {"field": "h", "type": "quantitative", "scale": {"domain": [0, 24], "nice": false, "zero": false}, "axis": {"orient": "bottom", "values": [0,1,2,3,4,5,6,7,8,9,10,11,12,13,14,15,16,17,18,19,20,21,22,23,24], "tickSize": 6, "labels": false, "title": null}},
     "y": {"field": "v", "type": "quantitative", "scale": {"domain": [4.722, 7.1], "nice": false, "zero": false}, "axis": {"orient": "left", "values": [5.0,5.5,6.0,6.5,7.0], "tickSize": 33, "labelPadding": 6, "format": ".1f", "title": null}}
    }},
   {"mark": {"type": "point", "opacity": 0},
    "encoding": {"y": {"field": "v", "type": "quantitative", "scale": {"domain": [4.722, 7.1], "nice": false, "zero": false}, "axis": {"orient": "left", "values": [4.8,4.9,5.1,5.2,5.3,5.4,5.6,5.7,5.8,5.9,6.1,6.2,6.3,6.4,6.6,6.7,6.8,6.9], "tickSize": 16, "labels": false, "domain": false, "title": null}}}},
   {"mark": {"type": "point", "opacity": 0},
    "encoding": {"y": {"field": "v", "type": "quantitative", "scale": {"domain": [4.722, 7.1], "nice": false, "zero": false}, "axis": {"orient": "right", "values": [5.0,5.5,6.0,6.5,7.0], "tickSize": 33, "labels": false, "title": "NIA02110_eng", "titleAngle": 0, "titleX": 35, "titleY": 59, "titleAlign": "left", "titleBaseline": "middle", "titleColor": "#2a2ab4"}}}},
   {"mark": {"type": "point", "opacity": 0},
    "encoding": {"y": {"field": "v", "type": "quantitative", "scale": {"domain": [4.722, 7.1], "nice": false, "zero": false}, "axis": {"orient": "right", "values": [4.8,4.9,5.1,5.2,5.3,5.4,5.6,5.7,5.8,5.9,6.1,6.2,6.3,6.4,6.6,6.7,6.8,6.9], "tickSize": 17, "labels": false, "domain": false, "title": null}}}}
  ],
  "resolve": {"axis": {"x": "independent", "y": "independent"}}
 },
 {
  "width": 1106, "height": 119.5,
  "data": {"name": "p7"},
  "layer": [
   {"mark": {"type": "line", "color": "#000000", "strokeWidth": 1, "strokeDash": [10, 7], "clip": true},
    "encoding": {
     "x": {"field": "h", "type": "quantitative", "scale": {"domain": [0, 24], "nice": false, "zero": false}, "axis": {"orient": "bottom", "values": [0,4,8,12,16,20,24], "tickSize": 7, "labelPadding": 0, "labelExpr": "datum.value == 24 ? '00:00' : (datum.value < 10 ? '0' : '') + datum.value + ':00'", "title": null}},
     "y": {"field": "v", "type": "quantitative", "scale": {"domain": [-8.4e19, 1.106e21], "nice": false, "zero": false}, "axis": {"orient": "left", "values": [0, 2e20, 4e20, 6e20, 8e20, 1e21], "tickSize": 33, "labelPadding": 6, "labelExpr": "datum.value == 0 ? '0' : datum.value > 9e20 ? '1×10²¹' : format(datum.value / 1e20, 'd') + '×10²⁰'", "title": null}}
    }},
   {"mark": {"type": "point", "opacity": 0},
    "encoding": {
     "x": {"field": "h", "type": "quantitative", "scale": {"domain": [0, 24], "nice": false, "zero": false}, "axis": {"orient": "bottom", "values": [0,1,2,3,4,5,6,7,8,9,10,11,12,13,14,15,16,17,18,19,20,21,22,23,24], "tickSize": 4, "labels": false, "domain": false, "title": null}},
     "y": {"field": "v", "type": "quantitative", "scale": {"domain": [-8.4e19, 1.106e21], "nice": false, "zero": false}, "axis": {"orient": "left", "values": [-5e19,5e19,1e20,1.5e20,2.5e20,3e20,3.5e20,4.5e20,5e20,5.5e20,6.5e20,7e20,7.5e20,8.5e20,9e20,9.5e20,1.05e21,1.1e21], "tickSize": 16, "labels": false, "domain": false, "title": null}}}},
   {"mark": {"type": "point", "opacity": 0},
    "encoding": {"y": {"field": "v", "type": "quantitative", "scale": {"domain": [-8.4e19, 1.106e21], "nice": false, "zero": false}, "axis": {"orient": "right", "values": [0, 2e20, 4e20, 6e20, 8e20, 1e21], "tickSize": 33, "labels": false, "title": ["HK_I_PLUS_28V_PRI PAS", "HSK"], "titleAngle": 0, "titleX": 35, "titleY": 53, "titleAlign": "left", "titleBaseline": "top", "titleLineHeight": 15.5, "titleColor": "#2a2ab4"}}}},
   {"mark": {"type": "point", "opacity": 0},
    "encoding": {"y": {"field": "v", "type": "quantitative", "scale": {"domain": [-8.4e19, 1.106e21], "nice": false, "zero": false}, "axis": {"orient": "right", "values": [-5e19,5e19,1e20,1.5e20,2.5e20,3e20,3.5e20,4.5e20,5e20,5.5e20,6.5e20,7e20,7.5e20,8.5e20,9e20,9.5e20,1.05e21,1.1e21], "tickSize": 17, "labels": false, "domain": false, "title": null}}}}
  ],
  "resolve": {"axis": {"x": "independent", "y": "independent"}}
 }
],
"spacing": 6,
"bounds": "flush"
}
